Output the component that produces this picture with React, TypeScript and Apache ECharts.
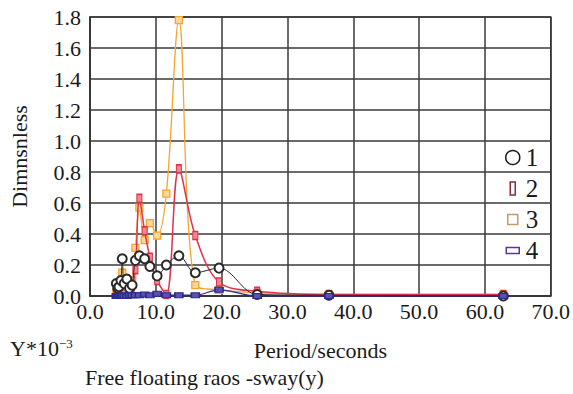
import React, { useEffect, useRef } from "react";
import * as echarts from "echarts";

// Wave periods (s) shared by all four response curves
const periods = [4.0, 4.2, 4.4, 4.7, 4.9, 5.2, 5.6, 6.0, 6.4, 6.9, 7.5, 8.3, 9.1, 10.2, 11.6, 13.5, 16.0, 19.6, 25.4, 36.3, 62.8];

// Sway RAO values (dimensionless, ×10⁻³) for the four cases
const rao1 = [0.08, 0.05, 0.06, 0.10, 0.24, 0.08, 0.11, 0.05, 0.07, 0.23, 0.26, 0.24, 0.19, 0.13, 0.20, 0.26, 0.15, 0.18, 0.01, 0.005, 0.0];
const rao2 = [0.02, 0.03, 0.04, 0.05, 0.06, 0.04, 0.08, 0.04, 0.06, 0.17, 0.63, 0.42, 0.25, 0.10, 0.01, 0.82, 0.39, 0.09, 0.03, 0.01, 0.01];
const rao3 = [0.02, 0.05, 0.06, 0.06, 0.15, 0.05, 0.06, 0.05, 0.10, 0.31, 0.57, 0.36, 0.47, 0.39, 0.66, 1.78, 0.07, 0.04, 0.02, 0.01, 0.01];
const rao4 = [0.0, 0.0, 0.0, 0.0, 0.005, 0.0, 0.0, 0.005, 0.005, 0.005, 0.005, 0.01, 0.005, 0.015, 0.005, 0.005, 0.005, 0.04, 0.0, 0.0, 0.0];

const seriesNames = ["1", "2", "3", "4"];
const xTicks = [0, 10, 20, 30, 40, 50, 60, 70];
const yTicks = [0, 0.2, 0.4, 0.6, 0.8, 1.0, 1.2, 1.4, 1.6, 1.8];

const FONT = "Liberation Serif";
const TEXT = "#1a1a1a";

const pairs = (ys: number[]) => periods.map((p, i) => [p, ys[i]]);
const tickFormatter = (v: number) => v.toFixed(1);

export default function App() {
  const ref = useRef<HTMLDivElement>(null);

  useEffect(() => {
    if (!ref.current) return;
    const chart = echarts.init(ref.current, null, { renderer: "svg" });

    const lineSeries = (
      name: string,
      ys: number[],
      color: string,
      width: number,
      symbol: string,
      symbolSize: number | number[],
      markerColor: string,
      z: number
    ) => ({
      name,
      type: "line",
      data: pairs(ys),
      smooth: 0.35,
      z,
      symbol,
      symbolSize,
      lineStyle: { color, width },
      itemStyle: { color: markerColor, borderColor: color, borderWidth: 1.3 },
    });

    chart.setOption({
      animation: false,
      backgroundColor: "#fff",
      textStyle: { fontFamily: FONT, color: TEXT },
      grid: {
        left: 82,
        right: 22,
        top: 17,
        bottom: 98,
        show: true,
        borderColor: "#333",
        borderWidth: 1.5,
      },
      xAxis: {
        type: "value",
        min: xTicks[0],
        max: xTicks[xTicks.length - 1],
        interval: 10,
        name: "Period/seconds",
        nameLocation: "middle",
        nameGap: 43,
        nameTextStyle: { fontFamily: FONT, fontSize: 22, color: TEXT },
        axisLine: { show: true, onZero: false, lineStyle: { color: "#333", width: 1.5 } },
        axisTick: { show: false },
        axisLabel: {
          fontFamily: FONT,
          fontSize: 22,
          color: TEXT,
          margin: 4,
          formatter: tickFormatter,
        },
        splitLine: { show: true, lineStyle: { color: "#3a3a3a", width: 1.5 } },
      },
      yAxis: {
        type: "value",
        min: yTicks[0],
        max: yTicks[yTicks.length - 1],
        interval: 0.2,
        name: "Dimnsnless",
        nameLocation: "middle",
        nameGap: 60,
        nameRotate: 90,
        nameTextStyle: { fontFamily: FONT, fontSize: 22, color: TEXT },
        axisLine: { show: true, lineStyle: { color: "#333", width: 1.5 } },
        axisTick: { show: false },
        axisLabel: {
          fontFamily: FONT,
          fontSize: 22,
          color: TEXT,
          margin: 9,
          formatter: tickFormatter,
        },
        splitLine: { show: true, lineStyle: { color: "#3a3a3a", width: 1.5 } },
      },
      legend: {
        orient: "vertical",
        left: 500,
        top: 140,
        itemWidth: 16,
        itemHeight: 14,
        itemGap: 6,
        textStyle: { fontFamily: FONT, fontSize: 25, color: TEXT, lineHeight: 24 },
        data: [
          {
            name: seriesNames[0],
            icon: "circle",
            itemStyle: { color: "#fff", borderColor: "#1a1a1a", borderWidth: 1.5 },
          },
          {
            name: seriesNames[1],
            icon: "path://M0,0M14,14M4.5,0.5h5v13h-5z",
            itemStyle: { color: "#fff", borderColor: "#8a2a38", borderWidth: 1.5 },
          },
          {
            name: seriesNames[2],
            icon: "path://M0,0M14,14M2,2h10v10h-10z",
            itemStyle: { color: "#fff", borderColor: "#c49a68", borderWidth: 1.5 },
          },
          {
            name: seriesNames[3],
            icon: "path://M0,0M14,14M0.5,4h13v6h-13z",
            itemStyle: { color: "#fff", borderColor: "#5a3a8c", borderWidth: 1.5 },
          },
        ],
      },
      series: [
        lineSeries(seriesNames[2], rao3, "#f5a432", 1.3, "rect", 7, "#fbd79a", 3),
        lineSeries(seriesNames[1], rao2, "#e0324e", 1.5, "rect", [5, 8], "#f08a8a", 4),
        lineSeries(seriesNames[0], rao1, "#2a2a2a", 1, "emptyCircle", 9, "#2a2a2a", 5),
        lineSeries(seriesNames[3], rao4, "#2c2a8c", 1.3, "rect", [8, 5], "#5a50b0", 6),
      ],
      graphic: [
        {
          type: "text",
          left: 10,
          top: 337,
          style: {
            text: "{b|Y*10}{s|−3}",
            rich: {
              b: { fontFamily: FONT, fontSize: 22, fill: TEXT },
              s: { fontFamily: FONT, fontSize: 13, fill: TEXT, verticalAlign: "top", padding: [0, 0, 10, 0] },
            },
          },
        },
        {
          type: "text",
          left: 85,
          top: 366,
          style: { text: "Free floating raos -sway(y)", fontFamily: FONT, fontSize: 22, fill: TEXT },
        },
      ],
    });

    return () => chart.dispose();
  }, []);

  return (
    <div
      ref={ref}
      style={{ position: "absolute", left: 0, top: 0, width: 573, height: 394 }}
    />
  );
}
